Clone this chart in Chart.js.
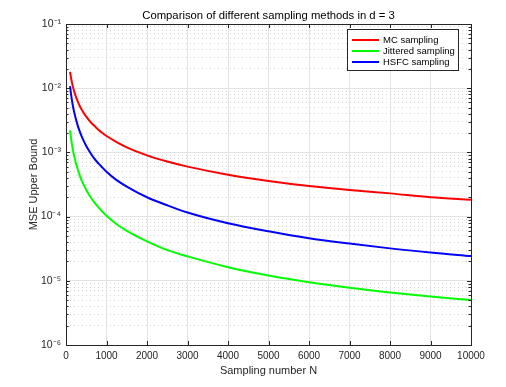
<!DOCTYPE html>
<html lang="en">
<head>
  <meta charset="UTF-8">
  <script src="https://cdn.jsdelivr.net/npm/chart.js"></script>
  <title>Sampling methods</title>
  <style>
    body{ margin:0; background:#fff; }
    #wrap{ width:506px; height:387px; }
  </style>
</head>
<body>
  <div id="wrap">
    <canvas id="myChart" width="506" height="387"></canvas>
  </div>
  <script>
    // sampling number N
    var sampleN = [100, 125, 150, 175, 200, 250, 300, 350, 400, 500, 600, 700, 800, 900, 1000, 1250, 1500, 2000, 2500, 3000, 4000, 5000, 6000, 7000, 8000, 9000, 10000];
    // values
    var mcVals = [1.8e-2, 1.44e-2, 1.2e-2, 1.03e-2, 9.0e-3, 7.2e-3, 6.0e-3, 5.1e-3, 4.5e-3, 3.6e-3, 3.0e-3, 2.6e-3, 2.25e-3, 2.0e-3, 1.8e-3, 1.45e-3, 1.2e-3, 9.0e-4, 7.2e-4, 6.0e-4, 4.5e-4, 3.6e-4, 3.0e-4, 2.6e-4, 2.3e-4, 2.0e-4, 1.83e-4];
    var jitVals = [2.2e-3, 1.66e-3, 1.3e-3, 1.06e-3, 8.9e-4, 6.6e-4, 5.2e-4, 4.2e-4, 3.5e-4, 2.6e-4, 2.04e-4, 1.66e-4, 1.39e-4, 1.19e-4, 1.03e-4, 7.6e-5, 6.0e-5, 4.1e-5, 3.0e-5, 2.4e-5, 1.63e-5, 1.21e-5, 9.5e-6, 7.8e-6, 6.6e-6, 5.7e-6, 5.0e-6];
    var hsfcVals = [1.08e-2, 8.0e-3, 6.3e-3, 5.1e-3, 4.3e-3, 3.2e-3, 2.5e-3, 2.03e-3, 1.7e-3, 1.26e-3, 9.9e-4, 8.0e-4, 6.75e-4, 5.8e-4, 5.0e-4, 3.7e-4, 2.93e-4, 2.0e-4, 1.5e-4, 1.16e-4, 7.9e-5, 5.9e-5, 4.6e-5, 3.8e-5, 3.2e-5, 2.75e-5, 2.43e-5];
    var seriesNames = ['MC sampling', 'Jittered sampling', 'HSFC sampling'];
    var seriesColors = ['#ff0000', '#00ff00', '#0000ff'];
    var xTicks = [0, 1000, 2000, 3000, 4000, 5000, 6000, 7000, 8000, 9000, 10000];
    var yExps = [-6, -5, -4, -3, -2, -1];
    var chartTitle = 'Comparison of different sampling methods in d = 3';

    var supers = {'-':'\u207B','1':'\u00B9','2':'\u00B2','3':'\u00B3','4':'\u2074','5':'\u2075','6':'\u2076'};
    function supText(n){
      return String(n).split('').map(function(c){ return supers[c]; }).join('');
    }

    function pts(vals){
      return sampleN.map(function(n, i){ return {x:n, y:vals[i]}; });
    }

    var FONT = "'Liberation Sans', Arial, Helvetica, sans-serif";

    // title over plot centre, box, inward tick marks, legend inside the plot
    var boxPlugin = {
      id: 'boxPlugin',
      afterDraw: function(chart){
        var ctx = chart.ctx, a = chart.chartArea;
        var xs = chart.scales.x, ys = chart.scales.y;
        ctx.save();
        ctx.fillStyle = '#000';
        ctx.font = '11.3px ' + FONT;
        ctx.textAlign = 'center';
        ctx.textBaseline = 'middle';
        ctx.fillText(chartTitle, (a.left + a.right) / 2, 16);

        ctx.strokeStyle = '#262626';
        ctx.lineWidth = 1;
        ctx.beginPath();
        xs.ticks.forEach(function(t){
          var px = Math.round(xs.getPixelForValue(t.value)) + 0.5;
          ctx.moveTo(px, a.bottom); ctx.lineTo(px, a.bottom - 4);
          ctx.moveTo(px, a.top); ctx.lineTo(px, a.top + 4);
        });
        ys.ticks.forEach(function(t){
          var py = Math.round(ys.getPixelForValue(t.value)) + 0.5;
          var len = t.major ? 4 : 2.5;
          ctx.moveTo(a.left, py); ctx.lineTo(a.left + len, py);
          ctx.moveTo(a.right, py); ctx.lineTo(a.right - len, py);
        });
        ctx.stroke();
        ctx.strokeRect(Math.round(a.left) + 0.5, Math.round(a.top) + 0.5, Math.round(a.right - a.left), Math.round(a.bottom - a.top));

        // legend
        var lx = 347.5, ly = 29.5, lw = 111, lh = 41;
        ctx.fillStyle = '#fff';
        ctx.fillRect(lx, ly, lw, lh);
        ctx.strokeStyle = '#262626';
        ctx.strokeRect(lx, ly, lw, lh);
        ctx.font = '9.5px ' + FONT;
        ctx.textAlign = 'left';
        chart.data.datasets.forEach(function(ds, i){
          var yy = 40 + i * 11;
          ctx.strokeStyle = ds.borderColor;
          ctx.lineWidth = 2;
          ctx.beginPath();
          ctx.moveTo(352, yy); ctx.lineTo(379, yy);
          ctx.stroke();
          ctx.fillStyle = '#000';
          ctx.fillText(ds.label, 383, yy);
        });
        ctx.restore();
      }
    };

    var ctx = document.getElementById('myChart');
    new Chart(ctx, {
      type: 'line',
      data: {
        datasets: seriesNames.map(function(name, i){
          return {
            label: name,
            data: pts([mcVals, jitVals, hsfcVals][i]),
            borderColor: seriesColors[i],
            backgroundColor: seriesColors[i],
            borderWidth: 2,
            pointRadius: 0,
            cubicInterpolationMode: 'monotone',
            fill: false
          };
        })
      },
      options: {
        responsive: false,
        animation: false,
        devicePixelRatio: 1,
        layout: { padding: { top: 24, right: 35, bottom: 0, left: 0 } },
        plugins: {
          legend: { display: false },
          tooltip: { enabled: false },
          title: { display: false }
        },
        scales: {
          x: {
            type: 'linear',
            min: 0, max: 10000,
            afterBuildTicks: function(s){
              s.ticks = xTicks.map(function(v){ return {value:v}; });
            },
            afterFit: function(s){ s.height = 42; },
            grid: { color: '#e3e3e3', drawTicks: false, lineWidth: 1 },
            border: { display: false },
            ticks: {
              color: '#262626', padding: 5, maxRotation: 0, minRotation: 0, autoSkip: false,
              font: { family: FONT, size: 10 },
              callback: function(v){ return String(v); }
            },
            title: {
              display: true, text: 'Sampling number N', color: '#262626',
              font: { family: FONT, size: 11 },
              padding: { top: 0, bottom: 9.5 }
            }
          },
          y: {
            type: 'logarithmic',
            min: 1e-6, max: 1e-1,
            afterBuildTicks: function(s){
              var t = [];
              yExps.forEach(function(e){
                var lim = e === -1 ? 1 : 9;
                for (var k = 1; k <= lim; k++) {
                  t.push({ value: k * Math.pow(10, e), major: k === 1, exp: e });
                }
              });
              s.ticks = t;
            },
            afterFit: function(s){ s.width = 66; },
            grid: {
              drawTicks: false,
              color: function(c){ return c.tick && c.tick.major ? '#e3e3e3' : '#d6d6d6'; },
              lineWidth: 1
            },
            border: {
              display: false,
              dash: function(c){ return c.tick && c.tick.major ? [] : [1, 3]; }
            },
            ticks: {
              color: '#262626', padding: 5, autoSkip: false,
              font: { family: FONT, size: 10.5 },
              callback: function(v, i, ticks){
                var t = ticks[i];
                if (!t.major) return '';
                return '10' + supText(t.exp);
              }
            },
            title: {
              display: true, text: 'MSE Upper Bound', color: '#262626',
              font: { family: FONT, size: 11 },
              padding: { top: 27, bottom: 0 }
            }
          }
        }
      },
      plugins: [boxPlugin]
    });
  </script>
</body>
</html>
